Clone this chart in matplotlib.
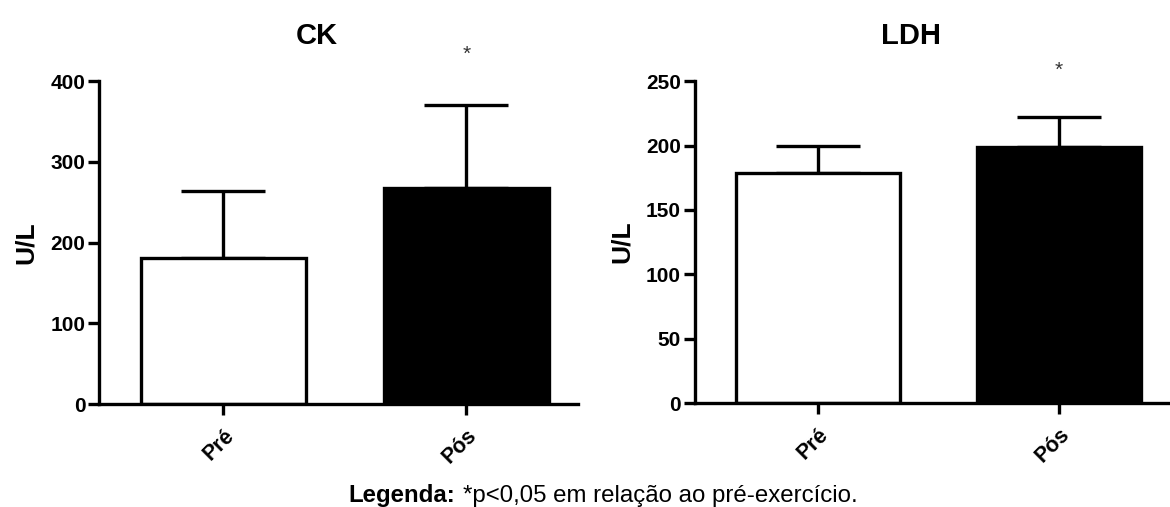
import numpy as np
import matplotlib
matplotlib.use("Agg")
import matplotlib.pyplot as plt
from matplotlib.transforms import ScaledTranslation

plt.rcParams['font.family'] = ['Liberation Sans', 'DejaVu Sans']

groups = ['Pré', 'Pós']
ck_mean = [181, 268]
ck_err = [83, 103]
ldh_mean = [179, 199]
ldh_err = [21, 23]
panels = [
    ('CK', ck_mean, ck_err, 400, [0, 100, 200, 300, 400], 433),
    ('LDH', ldh_mean, ldh_err, 250, [0, 50, 100, 150, 200, 250], 258),
]

fig = plt.figure(figsize=(11.7, 5.07), dpi=100)
rects = [[0.085, 0.203, 0.409, 0.637], [0.594, 0.205, 0.406, 0.635]]
lw = 2.4

for rect, (name, mean, err, ymax, yt, star_y) in zip(rects, panels):
    ax = fig.add_axes(rect)
    x = np.arange(len(groups))
    ax.bar(x, mean, width=0.68, color=['white', 'black'], edgecolor='black',
           linewidth=lw, zorder=2)
    # upper-only error bars, GraphPad style
    ax.errorbar(x, mean, yerr=[[0, 0], err], fmt='none', ecolor='black',
                elinewidth=lw, capsize=30, capthick=lw, zorder=1)
    ax.text(1, star_y, '*', ha='center', va='center', fontsize=15,
            color='#333333', clip_on=False)
    ax.set_xlim(-0.51, 1.46)
    ax.set_ylim(0, ymax)
    ax.set_yticks(yt)
    ax.set_xticks(x)
    ax.set_xticklabels(groups, rotation=45, ha='right', rotation_mode='anchor',
                       fontsize=15.5, fontweight='bold')
    shift = ScaledTranslation(0.1, 0, fig.dpi_scale_trans)
    for lab in ax.get_xticklabels():
        lab.set_transform(lab.get_transform() + shift)
    for lab in ax.get_yticklabels():
        lab.set_fontsize(15)
        lab.set_fontweight('bold')
    ax.spines['top'].set_visible(False)
    ax.spines['right'].set_visible(False)
    ax.spines['left'].set_linewidth(lw)
    ax.spines['bottom'].set_linewidth(lw)
    ax.tick_params(axis='both', width=lw, length=8, pad=2)
    ax.tick_params(axis='x', pad=7)
    ax.set_ylabel('U/L', fontsize=19, fontweight='bold', labelpad=9)
    ax.set_title(name, fontsize=21, fontweight='bold', x=0.455, pad=27)

fig.text(0.389, 0.01, 'Legenda:', ha='right', va='baseline', fontsize=17.3,
         fontweight='bold')
fig.text(0.396, 0.01, '*p<0,05 em relação ao pré-exercício.', ha='left',
         va='baseline', fontsize=17.3)

fig.savefig('out.png', dpi=100)
